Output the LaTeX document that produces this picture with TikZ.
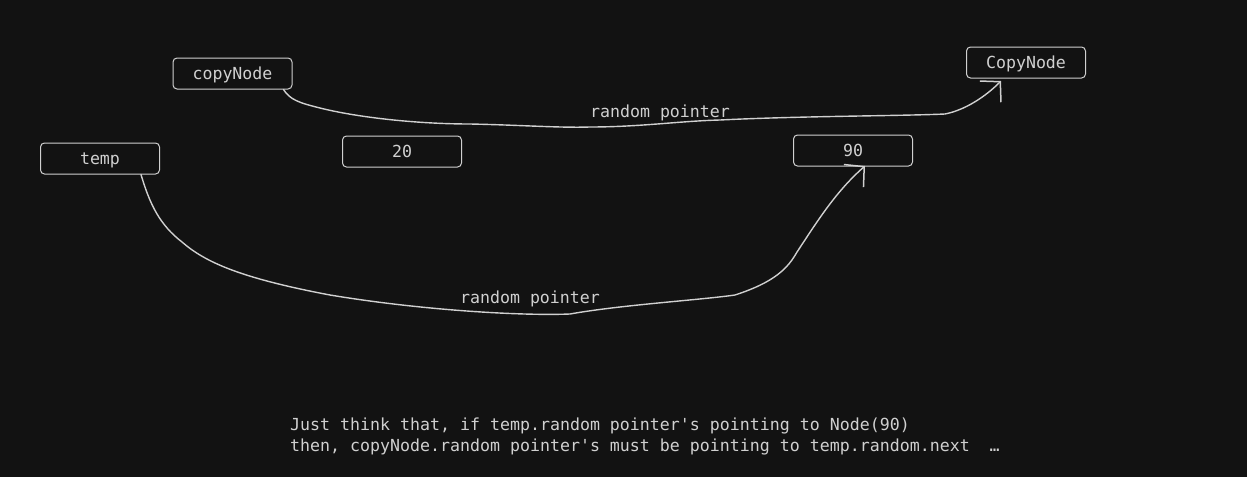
\documentclass[tikz,border=0pt]{standalone}
\usepackage{fontspec}
\setmonofont{DejaVu Sans Mono}
\usetikzlibrary{arrows.meta}
\definecolor{bg}{HTML}{121212}
\definecolor{ink}{HTML}{D0D0D0}
\begin{document}
\begin{tikzpicture}[x=1pt,y=-1pt,
  box/.style={draw=ink, line width=1pt, rounded corners=4pt, fill=bg, minimum width=119pt, minimum height=31pt, inner sep=0pt, text height=12pt, text depth=0pt, text=ink, font=\ttfamily\fontsize{16.6}{20}\selectfont},
  lbl/.style={text=ink, font=\ttfamily\fontsize{16.6}{20}\selectfont, inner sep=0pt},
  link/.style={draw=ink, line width=1.4pt, line cap=round, -{Straight Barb[length=14pt,width=30pt,line width=1.5pt]}}]
\fill[bg] (0,0) rectangle (1247,477);
\useasboundingbox (0,0) rectangle (1247,477);
\node[box] (cn) at (232.5,73.5) {copyNode};
\node[box] (tp) at (100,158.5) {temp};
\node[box] (n20) at (402,151.5) {20};
\node[box] (n90) at (853,150.5) {90};
\node[box] (CN) at (1026,62.5) {CopyNode};
\coordinate (a1) at (320,108);
\coordinate (a2) at (470,124);
\coordinate (a3) at (590,127);
\coordinate (a4) at (720,120);
\coordinate (a5) at (945,114);
\coordinate (e1) at (1001,81);
\draw[link] ([xshift=-9pt]cn.south east) .. controls (290,100) and (300,103) .. (a1)
  .. controls (360,118) and (420,124) .. (a2)
  .. controls (520,125) and (560,128) .. (a3)
  .. controls (640,127) and (680,121) .. (a4)
  .. controls (800,116) and (900,116) .. (a5)
  .. controls (965,110) and (985,97) .. (e1);
\node[lbl] (l1) at (660,113) {random pointer};
\coordinate (b1) at (182,242);
\coordinate (b2) at (330,295);
\coordinate (b3) at (570,314);
\coordinate (b4) at (735,295);
\coordinate (b5) at (797,252);
\coordinate (e2) at (865,166);
\draw[link] ([xshift=-19pt]tp.south east) .. controls (150,205) and (160,225) .. (b1)
  .. controls (205,262) and (240,278) .. (b2)
  .. controls (420,310) and (520,316) .. (b3)
  .. controls (620,305) and (700,300) .. (b4)
  .. controls (775,282) and (788,268) .. (b5)
  .. controls (815,225) and (835,192) .. (e2);
\node[lbl] (l2) at (530,299) {random pointer};
\node[lbl, anchor=west] (t1) at (290,426) {Just think that, if temp.random pointer's pointing to Node(90)};
\node[lbl, anchor=west] (t2) at (290,447) {then, copyNode.random pointer's must be pointing to temp.random.next\ \ …};
\end{tikzpicture}
\end{document}
